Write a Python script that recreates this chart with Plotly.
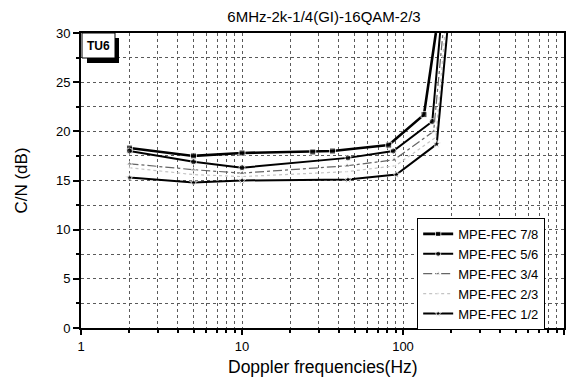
import plotly.graph_objects as go

# ---- data ----
names = ["MPE-FEC 7/8", "MPE-FEC 5/6", "MPE-FEC 3/4", "MPE-FEC 2/3", "MPE-FEC 1/2"]

x_78 = [2, 5, 10, 27.5, 36.5, 81.5, 135, 160]
y_78 = [18.3, 17.5, 17.8, 17.9, 18.0, 18.6, 21.7, 30]

x_56 = [2, 5, 10, 45.5, 87, 152, 170]
y_56 = [18.0, 16.9, 16.3, 17.3, 18.0, 21.0, 30]

x_34 = [2, 5, 10, 45, 88, 155, 177]
y_34 = [16.7, 16.1, 15.75, 16.5, 17.1, 20.0, 30]

x_23 = [2, 5, 10, 45, 90, 160, 182]
y_23 = [16.3, 15.6, 15.4, 15.9, 16.5, 19.4, 30]

x_12 = [2, 5, 10, 45.5, 91, 162, 188]
y_12 = [15.3, 14.8, 15.0, 15.1, 15.6, 18.7, 30]

x_ticks = [1, 10, 100, 1000]
x_minor = [m * d for d in (1, 10, 100) for m in range(2, 10)]
y_ticks = [0, 5, 10, 15, 20, 25, 30]

title = "6MHz-2k-1/4(GI)-16QAM-2/3"
x_title = "Doppler frequencies(Hz)"
y_title = "C/N (dB)"

# ---- styles ----
styles = [
    dict(line=dict(color="black", width=2.6), marker=dict(symbol="square", size=6, color="black")),
    dict(line=dict(color="black", width=2.0), marker=dict(symbol="circle", size=6, color="black")),
    dict(line=dict(color="#666666", width=1.2, dash="dashdot"), marker=dict(symbol="triangle-up", size=5, color="#666666")),
    dict(line=dict(color="#c4c4c4", width=1.2, dash="dot"), marker=dict(symbol="circle", size=2, color="#c4c4c4")),
    dict(line=dict(color="black", width=2.0), marker=dict(symbol="star", size=6, color="black")),
]
xs = [x_78, x_56, x_34, x_23, x_12]
ys = [y_78, y_56, y_34, y_23, y_12]

fig = go.Figure()
for n, xv, yv, st in zip(names, xs, ys, styles):
    mk = dict(st["marker"])
    # no marker where the curve leaves the top of the frame
    mk["size"] = [mk["size"]] * (len(xv) - 1) + [0]
    fig.add_trace(go.Scatter(x=xv, y=yv, name=n, mode="lines+markers",
                             line=st["line"], marker=mk, cliponaxis=True))

font = "Liberation Sans, Arial, sans-serif"
gcol = "#5a5a5a"
grid = dict(showgrid=True, gridcolor=gcol, griddash="dot", gridwidth=1)

# the page body adds an 8px margin, so the figure is sized to fit inside it
fig.update_layout(
    width=569, height=369,
    margin=dict(l=73, r=13, t=25, b=49, autoexpand=False),
    paper_bgcolor="white", plot_bgcolor="white",
    font=dict(family=font, color="black", size=13),
    title=dict(text=title, x=0.5554, xanchor="center", y=0.976, yanchor="middle",
               font=dict(size=15, family=font, color="black")),
    showlegend=True,
    legend=dict(x=0.696, y=0.373, xanchor="left", yanchor="top",
                bordercolor="black", borderwidth=1, bgcolor="white",
                font=dict(size=13, family=font, color="black"),
                itemwidth=30, tracegroupgap=0),
    xaxis=dict(type="log", range=[0, 3], tickvals=x_ticks, ticktext=[str(v) for v in x_ticks],
               automargin=False,
               ticks="outside", ticklen=5, tickwidth=1.5, tickcolor="black",
               showline=True, linecolor="black", linewidth=2, mirror=True,
               tickfont=dict(size=13, family=font, color="black"),
               minor=dict(tickvals=x_minor, ticks="outside", ticklen=3, tickcolor="black",
                          showgrid=True, gridcolor=gcol, griddash="dot", gridwidth=1),
               zeroline=False, **grid),
    yaxis=dict(range=[0, 30], tickvals=y_ticks,
               automargin=False,
               ticks="outside", ticklen=6, tickwidth=1.5, tickcolor="black",
               showline=True, linecolor="black", linewidth=2, mirror=True,
               tickfont=dict(size=13, family=font, color="black"),
               title=dict(text=y_title, font=dict(size=17, family=font, color="black"), standoff=24),
               minor=dict(dtick=2.5, ticks="outside", ticklen=3, tickcolor="black",
                          showgrid=True, gridcolor=gcol, griddash="dot", gridwidth=1),
               zeroline=False, **grid),
)

# x-axis title as an annotation
fig.add_annotation(text=x_title, xref="paper", yref="paper", x=0.5, y=-0.132,
                   xanchor="center", yanchor="middle", showarrow=False,
                   font=dict(size=17.5, family=font, color="black"))

# TU6 label box with drop shadow (decoration)
W, H = 483.0, 295.0
def px(xp): return xp / W
def py(yp): return 1 - yp / H
fig.add_shape(type="rect", xref="paper", yref="paper",
              x0=px(6), x1=px(38), y0=py(30), y1=py(5),
              fillcolor="black", line=dict(width=0))
fig.add_shape(type="rect", xref="paper", yref="paper",
              x0=px(1), x1=px(34), y0=py(25), y1=py(0),
              fillcolor="white", line=dict(color="black", width=1))
fig.add_annotation(text="<b>TU6</b>", xref="paper", yref="paper",
                   x=px(17.5), y=py(12.5), xanchor="center", yanchor="middle",
                   showarrow=False, font=dict(size=12, family=font, color="black"))

fig.write_html("out.html")
